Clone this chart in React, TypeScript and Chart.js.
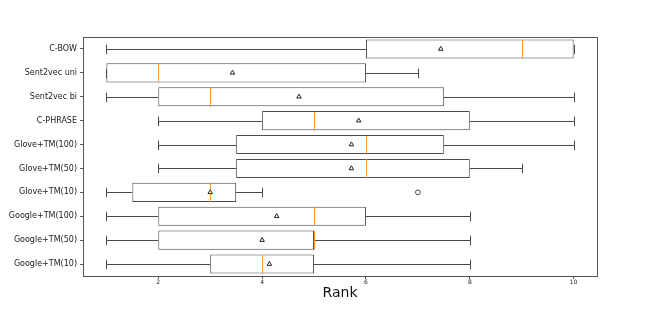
import React, { useEffect, useRef } from "react";
import { Chart, registerables } from "chart.js";

Chart.register(...registerables);

const categories = [
  "C-BOW",
  "Sent2vec uni",
  "Sent2vec bi",
  "C-PHRASE",
  "Glove+TM(100)",
  "Glove+TM(50)",
  "Glove+TM(10)",
  "Google+TM(100)",
  "Google+TM(50)",
  "Google+TM(10)",
];
const whiskerLow = [1, 1, 1, 2, 2, 2, 1, 1, 1, 1];
const q1 = [6, 1, 2, 4, 3.5, 3.5, 1.5, 2, 2, 3];
const medians = [9, 2, 3, 5, 6, 6, 3, 5, 5, 4];
const q3 = [10, 6, 7.5, 8, 7.5, 8, 3.5, 6, 5, 5];
const whiskerHigh = [10, 7, 10, 10, 10, 9, 4, 8, 8, 8];
const means = [7.44, 3.43, 4.71, 5.86, 5.72, 5.72, 3.0, 4.28, 4.0, 4.14];
const outlierCategories = ["Glove+TM(10)"];
const outlierValues = [7];
const xTicks = [2, 4, 6, 8, 10];

const LINE = "#4a4a4a";
const MEDIAN = "#ff9a3d";
const FONT = "'DejaVu Sans', sans-serif";

const boxPlugin = {
  id: "boxParts",
  afterDatasetDraw(chart: any, args: any) {
    if (args.index !== 0) return;
    const { ctx } = chart;
    const xs = chart.scales.x;
    const ys = chart.scales.y;
    const band = ys.getPixelForValue(1) - ys.getPixelForValue(0);
    const boxH = band * 0.8;
    const capH = boxH * 0.5;
    ctx.save();
    ctx.lineWidth = 1;
    categories.forEach((_, i) => {
      const yc = Math.round(ys.getPixelForValue(i)) + 0.5;
      const xl = Math.round(xs.getPixelForValue(whiskerLow[i])) + 0.5;
      const xq1 = xs.getPixelForValue(q1[i]);
      const xq3 = xs.getPixelForValue(q3[i]);
      const xh = Math.round(xs.getPixelForValue(whiskerHigh[i])) + 0.5;
      ctx.strokeStyle = LINE;
      ctx.beginPath();
      // whiskers
      if (whiskerLow[i] < q1[i]) {
        ctx.moveTo(xl, yc);
        ctx.lineTo(xq1, yc);
      }
      if (whiskerHigh[i] > q3[i]) {
        ctx.moveTo(xq3, yc);
        ctx.lineTo(xh, yc);
      }
      // caps
      ctx.moveTo(xl, yc - capH / 2);
      ctx.lineTo(xl, yc + capH / 2);
      ctx.moveTo(xh, yc - capH / 2);
      ctx.lineTo(xh, yc + capH / 2);
      ctx.stroke();
      // median
      const xm = Math.round(xs.getPixelForValue(medians[i])) + 0.5;
      ctx.strokeStyle = MEDIAN;
      ctx.beginPath();
      ctx.moveTo(xm, yc - boxH / 2);
      ctx.lineTo(xm, yc + boxH / 2);
      ctx.stroke();
    });
    ctx.restore();
  },
  afterDraw(chart: any) {
    const { ctx, chartArea } = chart;
    ctx.save();
    ctx.strokeStyle = "#555";
    ctx.lineWidth = 1;
    ctx.strokeRect(
      Math.round(chartArea.left) + 0.5,
      Math.round(chartArea.top) + 0.5,
      Math.round(chartArea.right - chartArea.left),
      Math.round(chartArea.bottom - chartArea.top)
    );
    ctx.restore();
  },
};

export default function App() {
  const ref = useRef<HTMLCanvasElement>(null);

  useEffect(() => {
    if (!ref.current) return;
    const chart = new Chart(ref.current, {
      type: "bar",
      data: {
        labels: categories,
        datasets: [
          {
            type: "bar",
            data: categories.map((_, i) => [q1[i], q3[i]]) as any,
            backgroundColor: "#ffffff",
            borderColor: LINE,
            borderWidth: 1,
            borderSkipped: false,
            barPercentage: 0.8,
            categoryPercentage: 1.0,
            order: 2,
          } as any,
          {
            type: "scatter",
            data: categories.map((c, i) => ({ x: means[i], y: c })) as any,
            pointStyle: "triangle",
            pointRadius: 2.6,
            borderColor: "#222",
            backgroundColor: "#ffffff",
            borderWidth: 1,
            order: 1,
          } as any,
          {
            type: "scatter",
            data: outlierCategories.map((c, i) => ({ x: outlierValues[i], y: c })) as any,
            pointStyle: "circle",
            pointRadius: 2.4,
            borderColor: "#444",
            backgroundColor: "#ffffff",
            borderWidth: 1,
            order: 1,
          } as any,
        ],
      },
      options: {
        indexAxis: "y",
        responsive: false,
        animation: false,
        layout: { padding: { top: 37, right: 67, left: 0, bottom: 0 } },
        plugins: {
          legend: { display: false },
          tooltip: { enabled: false },
        },
        scales: {
          x: {
            type: "linear",
            min: 0.55,
            max: 10.45,
            afterBuildTicks: (s: any) => {
              s.ticks = xTicks.map((v) => ({ value: v }));
            },
            afterFit: (s: any) => {
              s.height = 34;
            },
            border: { display: false },
            grid: {
              drawOnChartArea: false,
              drawTicks: true,
              tickLength: 3,
              color: "#555",
            },
            ticks: {
              padding: 0,
              color: "#222",
              font: { family: FONT, size: 6 },
              maxRotation: 0,
            },
            title: {
              display: true,
              text: "Rank",
              color: "#111",
              font: { family: FONT, size: 14 },
              padding: { top: 0, bottom: 8 },
            },
          },
          y: {
            type: "category",
            offset: true,
            afterFit: (s: any) => {
              s.width = 83;
            },
            border: { display: false },
            grid: {
              drawOnChartArea: false,
              drawTicks: true,
              tickLength: 3,
              offset: false,
              color: "#555",
            },
            ticks: {
              padding: 3,
              color: "#222",
              font: { family: FONT, size: 8 },
              autoSkip: false,
            },
          },
        },
      },
      plugins: [boxPlugin],
    });
    return () => chart.destroy();
  }, []);

  return (
    <div style={{ position: "fixed", left: 0, top: 0, width: 664, height: 310, background: "#fff" }}>
      <canvas ref={ref} width={664} height={310} style={{ display: "block" }} />
    </div>
  );
}
